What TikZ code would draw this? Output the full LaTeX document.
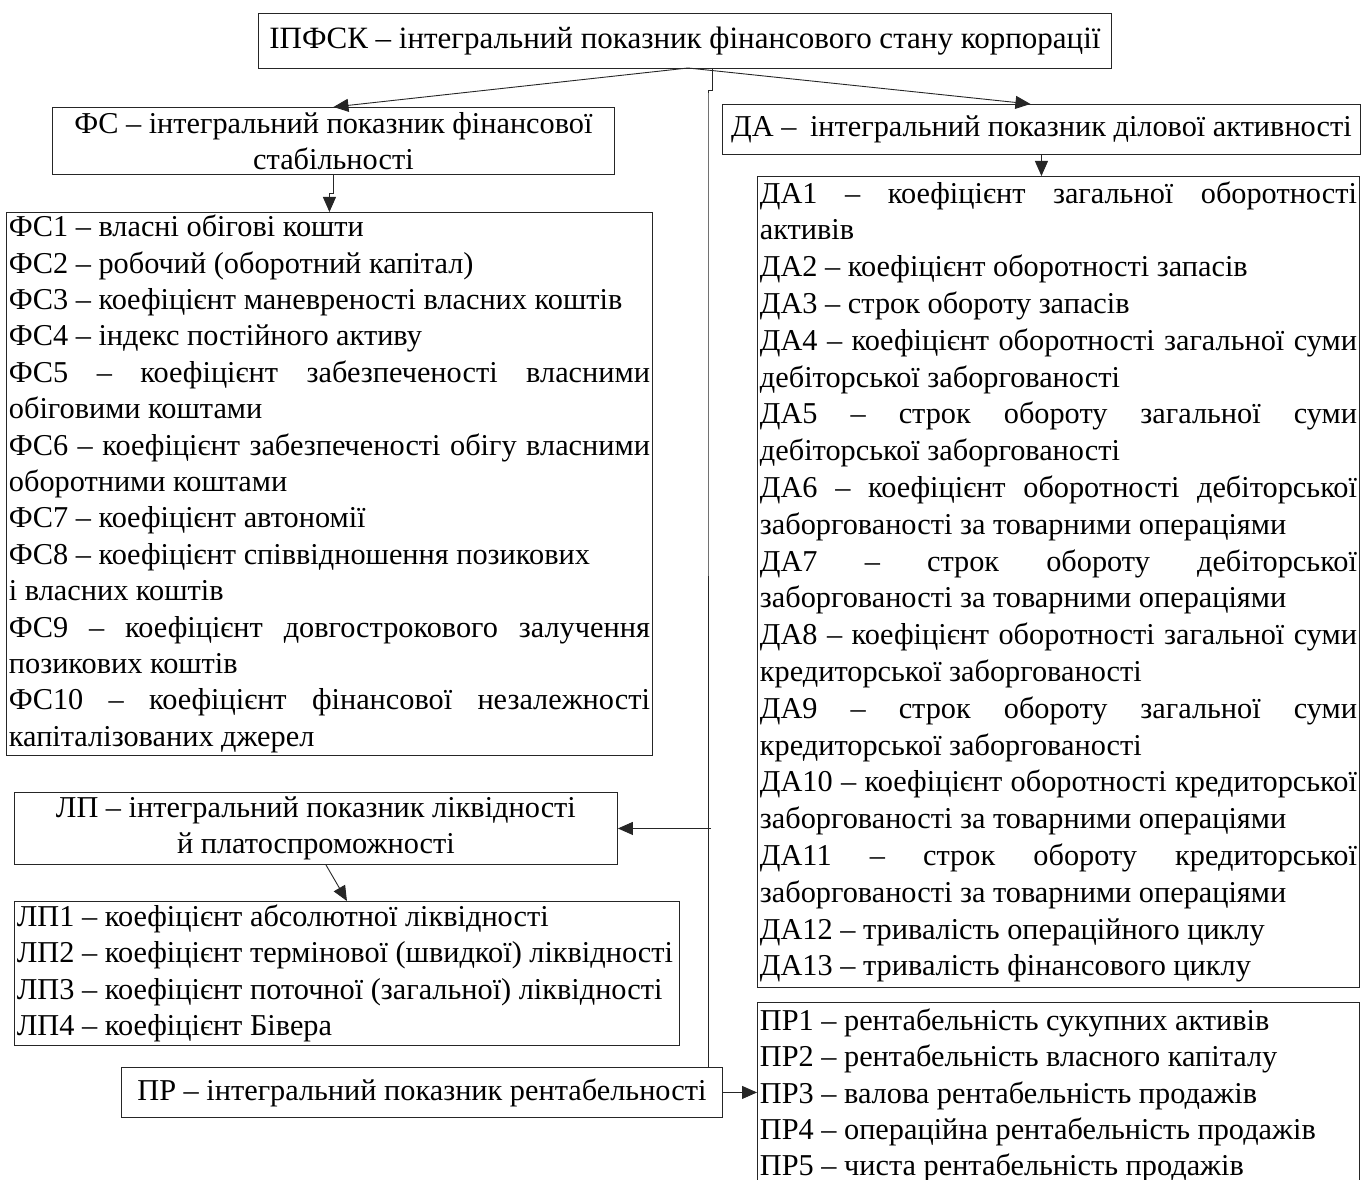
\documentclass[tikz,border=0pt]{standalone}
\usepackage{fontspec}
\setmainfont{Liberation Serif}
\usetikzlibrary{arrows.meta,positioning,calc}
\newcommand{\topfont}{\fontsize{31}{36.4}\selectfont}
\newcommand{\boxfont}{\fontsize{30.3}{36.4}\selectfont\parindent=0pt}
\newcommand{\dafont}{\fontsize{30.3}{36.8}\selectfont\parindent=0pt}
\begin{document}
\begin{tikzpicture}[x=1pt,y=-1pt,
  hdr/.style={draw=black!85,line width=0.9pt,anchor=north west,inner sep=0pt,
              align=center,font=\boxfont},
  lst/.style={draw=black!85,line width=0.9pt,anchor=north west,inner xsep=2.5pt,
              inner ysep=0pt,align=justify,font=\boxfont},
  arr/.style={draw=black!85,line width=0.9pt,-{Triangle[length=15pt,width=13pt]}},
  ln/.style={draw=black!85,line width=0.9pt},
]
\useasboundingbox (0,0) rectangle (1361,1180);
% headers
\node[hdr,font=\topfont,minimum width=853,minimum height=55] (top) at (258,13)
  {ІПФСК – інтегральний показник фінансового стану корпорації};
\node[hdr,minimum width=562,minimum height=67] (fs) at (52,107)
  {ФС – інтегральний показник фінансової\\стабільності};
\node[hdr,minimum width=638,minimum height=50] (da) at (722,104)
  {ДА –\hspace{0.45em}інтегральний показник ділової активності};
\node[hdr,minimum width=603,minimum height=72] (lp) at (14,792)
  {ЛП – інтегральний показник ліквідності\\й платоспроможності};
\node[hdr,minimum width=601,minimum height=50] (pr) at (121,1067)
  {ПР – інтегральний показник рентабельності};
% lists
\node[lst,text width=641,minimum height=543] (fslist) at (6,212) {%
ФС1 – власні обігові кошти\par
ФС2 – робочий (оборотний капітал)\par
ФС3 – коефіцієнт маневреності власних коштів\par
ФС4 – індекс постійного активу\par
ФС5 – коефіцієнт забезпеченості власними\linebreak обіговими коштами\par
ФС6 – коефіцієнт забезпеченості обігу власними\linebreak оборотними коштами\par
ФС7 – коефіцієнт автономії\par
ФС8 – коефіцієнт співвідношення позикових\newline і власних коштів\par
ФС9 – коефіцієнт довгострокового залучення\linebreak позикових коштів\par
ФС10 – коефіцієнт фінансової незалежності\linebreak капіталізованих джерел};
\node[lst,font=\dafont,text width=597,minimum height=811] (dalist) at (757,176) {%
ДА1 – коефіцієнт загальної оборотності\linebreak активів\par
ДА2 – коефіцієнт оборотності запасів\par
ДА3 – строк обороту запасів\par
ДА4 – коефіцієнт оборотності загальної суми\linebreak дебіторської заборгованості\par
ДА5 – строк обороту загальної суми\linebreak дебіторської заборгованості\par
ДА6 – коефіцієнт оборотності дебіторської\linebreak заборгованості за товарними операціями\par
ДА7 – строк обороту дебіторської\linebreak заборгованості за товарними операціями\par
ДА8 – коефіцієнт оборотності загальної суми\linebreak кредиторської заборгованості\par
ДА9 – строк обороту загальної суми\linebreak кредиторської заборгованості\par
ДА10 – коефіцієнт оборотності кредиторської\linebreak заборгованості за товарними операціями\par
ДА11 – строк обороту кредиторської\linebreak заборгованості за товарними операціями\par
ДА12 – тривалість операційного циклу\par
ДА13 – тривалість фінансового циклу};
\node[lst,text width=660,minimum height=144] (lplist) at (14,901) {%
ЛП1 – коефіцієнт абсолютної ліквідності\par
ЛП2 – коефіцієнт термінової (швидкої) ліквідності\par
ЛП3 – коефіцієнт поточної (загальної) ліквідності\par
ЛП4 – коефіцієнт Бівера};
\node[lst,text width=597,minimum height=186] (prlist) at (757,1002) {%
ПР1 – рентабельність сукупних активів\par
ПР2 – рентабельність власного капіталу\par
ПР3 – валова рентабельність продажів\par
ПР4 – операційна рентабельність продажів\par
ПР5 – чиста рентабельність продажів};
% connectors
\coordinate (fork) at (688,68);
\coordinate (trunktop) at (712,68);
\coordinate (trunk) at (708,0);
\draw[arr] (fork) -- (fs.north);
\draw[arr] (fork) -- ([xshift=-11pt]da.north);
\draw[ln] (trunktop) -- ++(0,22) -| (trunk |- 0,95) -- (pr.north -| trunk);
\draw[arr] ($(lp.east -| trunk)+(3,0)$) -- (lp.east);
\draw[arr] (fs.south) -- ++(0,19) -| ([xshift=-4pt]fs.south |- fslist.north);
\draw[arr] (da.south) -- (da.south |- dalist.north);
\draw[arr] ([xshift=10pt]lp.south) -- (lplist.north);
\draw[arr] (pr.east) -- (pr.east -| prlist.west);
\end{tikzpicture}
\end{document}
